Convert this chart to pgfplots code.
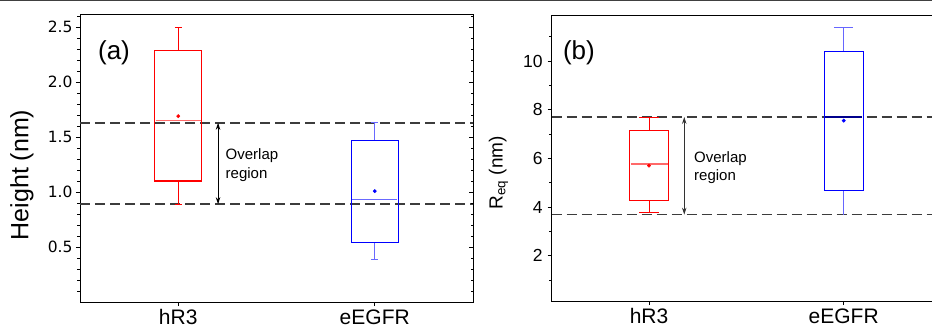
\documentclass[border=0pt]{standalone}
\usepackage{fontspec}
\setmainfont{Liberation Sans}
\newfontfamily\dejavu{DejaVu Sans}
\usepackage{pgfplots}
\pgfplotsset{compat=1.18}
\usetikzlibrary{arrows.meta}
\definecolor{dashgray}{RGB}{60,60,60}
\definecolor{myred}{RGB}{255,0,0}
\definecolor{medred}{RGB}{255,105,105}
\definecolor{myblue}{RGB}{0,0,255}
\definecolor{medblue}{RGB}{105,105,255}
\definecolor{darkblue}{RGB}{0,0,140}
\pgfplotsset{
  panel/.style={
    scale only axis, anchor=south west,
    xmin=0.5, xmax=2.5, xtick={1,2}, xticklabels={hR3,eEGFR},
    xtick pos=bottom, ytick pos=left, tick align=outside,
    major tick length=4pt, minor tick length=2.5pt,
    axis line style={line width=0.9pt},
    tick style={black, line width=0.8pt},
    /pgf/number format/assume math mode=true,
    xticklabel style={font=\fontsize{21}{24}\selectfont},
  },
  refline/.style={dashgray, line width=1.4pt, dash pattern=on 10pt off 5pt},
  boxline/.style={line width=1.2pt, line join=miter},
  whisk/.style={line width=0.9pt},
  arr/.style={line width=0.8pt, {Stealth[length=7pt,width=4.5pt]}-{Stealth[length=7pt,width=4.5pt]}},
}
\begin{document}
\begin{tikzpicture}
\useasboundingbox (0,0) rectangle (932pt,330pt);
\clip (0,0) rectangle (932pt,330pt);
\draw[black!75, line width=1pt] (0,329.5pt) -- (932pt,329.5pt);
% ---------- panel (a) ----------
\begin{axis}[panel, at={(80pt,28pt)}, width=393pt, height=288pt,
  ymin=0, ymax=2.62, ytick={0.5,1.0,1.5,2.0,2.5},
  minor ytick={0.1,0.2,...,2.6},
  yticklabel style={font=\fontsize{15.5}{18}\dejavu, /pgf/number format/.cd, fixed, fixed zerofill, precision=1},
  ylabel={Height (nm)},
  ylabel style={font=\fontsize{25}{28}\selectfont, at={(axis description cs:-0.1476,0.441)}, anchor=center},
]
\addplot[refline] coordinates {(0.5,1.63) (2.5,1.63)};
\addplot[refline] coordinates {(0.5,0.89) (2.5,0.89)};
% hR3: lw 0.89, q1 1.10, med 1.65, q3 2.285, uw 2.50, mean 1.69
\addplot[draw=myred, whisk] coordinates {(1,2.285) (1,2.50)};
\addplot[draw=myred, whisk] coordinates {(0.983,2.50) (1.017,2.50)};
\addplot[draw=myred, whisk] coordinates {(1,1.10) (1,0.89)};
\addplot[draw=myred, whisk] coordinates {(0.983,0.89) (1.017,0.89)};
\addplot[draw=medred, boxline] coordinates {(0.885,1.65) (1.115,1.65)};
\addplot[draw=myred, boxline] coordinates {(0.88,1.10) (1.12,1.10) (1.12,2.285) (0.88,2.285) (0.88,1.10) (1.12,1.10)};
\addplot[only marks, mark=*, mark size=1.7pt, color=myred] coordinates {(1,1.69)};
% eEGFR: lw 0.383, q1 0.544, med 0.936, q3 1.47, uw 1.63, mean 1.008
\addplot[draw=medblue, whisk] coordinates {(2,1.47) (2,1.63)};
\addplot[draw=medblue, whisk] coordinates {(1.983,1.63) (2.017,1.63)};
\addplot[draw=medblue, whisk] coordinates {(2,0.544) (2,0.383)};
\addplot[draw=medblue, whisk] coordinates {(1.983,0.383) (2.017,0.383)};
\addplot[draw=medblue, boxline] coordinates {(1.885,0.936) (2.115,0.936)};
\addplot[draw=myblue, boxline] coordinates {(1.88,0.544) (2.12,0.544) (2.12,1.47) (1.88,1.47) (1.88,0.544) (2.12,0.544)};
\addplot[only marks, mark=*, mark size=1.7pt, color=myblue] coordinates {(2,1.008)};
\addplot[arr, black] coordinates {(1.2026,0.89) (1.2026,1.63)};
\node[anchor=base west, font=\fontsize{15}{18}\selectfont] at (axis cs:1.2236,1.298) {Overlap};
\node[anchor=base west, font=\fontsize{15}{18}\selectfont] at (axis cs:1.2236,1.121) {region};
\node[font=\fontsize{26}{30}\selectfont] at (axis cs:0.673,2.27) {(a)};
\end{axis}
\begin{axis}[scale only axis, anchor=south west, at={(80pt,28pt)}, width=393pt, height=288pt,
  xmin=0.5, xmax=2.5, ymin=0, ymax=2.62, axis x line=none, axis y line*=right,
  ytick={0.5,1.0,1.5,2.0,2.5}, minor ytick={0.1,0.2,...,2.6}, yticklabels={},
  tick align=inside, major tick length=4pt, minor tick length=2.5pt,
  axis line style={line width=0.9pt}, tick style={black, line width=0.8pt}]
\end{axis}
% ---------- panel (b) ----------
\begin{axis}[panel, at={(551.7pt,29pt)}, width=389.3pt, height=285.3pt,
  ymin=0.14, ymax=11.86, ytick={2,4,6,8,10},
  minor ytick={1,3,5,7,9,11},
  yticklabel style={font=\fontsize{17.5}{20}\selectfont, xshift=-1.5pt},
  ylabel={R\textsubscript{eq} (nm)},
  ylabel style={font=\fontsize{19}{22}\selectfont, at={(axis description cs:-0.1367,0.449)}, anchor=center},
]
\addplot[refline] coordinates {(0.5,7.70) (2.5,7.70)};
\addplot[refline] coordinates {(0.5,3.69) (2.5,3.69)};
% hR3: lw 3.76, q1 4.26, med 5.77, q3 7.15, uw 7.67, mean 5.70
\addplot[draw=myred, whisk] coordinates {(1,7.15) (1,7.67)};
\addplot[draw=myred, boxline] coordinates {(0.95,7.67) (1.05,7.67)};
\addplot[draw=myred, whisk] coordinates {(1,4.26) (1,3.76)};
\addplot[draw=myred, boxline] coordinates {(0.95,3.76) (1.05,3.76)};
\addplot[draw=medred, boxline] coordinates {(0.905,5.77) (1.095,5.77)};
\addplot[draw=myred, boxline] coordinates {(0.9,4.26) (1.1,4.26) (1.1,7.15) (0.9,7.15) (0.9,4.26) (1.1,4.26)};
\addplot[only marks, mark=*, mark size=1.7pt, color=myred] coordinates {(1,5.70)};
% eEGFR: lw 3.69, q1 4.69, med 7.69, q3 10.38, uw 11.37, mean 7.55
\addplot[draw=blue!60, whisk] coordinates {(2,10.38) (2,11.37)};
\addplot[draw=blue!60, whisk] coordinates {(1.95,11.37) (2.05,11.37)};
\addplot[draw=blue!60, whisk] coordinates {(2,4.69) (2,3.69)};
\addplot[draw=darkblue, line width=1.6pt] coordinates {(1.905,7.69) (2.095,7.69)};
\addplot[draw=blue, boxline] coordinates {(1.9,4.69) (2.1,4.69) (2.1,10.38) (1.9,10.38) (1.9,4.69) (2.1,4.69)};
\addplot[only marks, mark=*, mark size=1.7pt, color=blue] coordinates {(2,7.55)};
\addplot[arr, black!80] coordinates {(1.181,3.69) (1.181,7.70)};
\node[anchor=base west, font=\fontsize{15}{18}\selectfont] at (axis cs:1.214,5.83) {Overlap};
\node[anchor=base west, font=\fontsize{15}{18}\selectfont] at (axis cs:1.214,5.07) {region};
\node[font=\fontsize{26}{30}\selectfont] at (axis cs:0.64,10.33) {(b)};
\end{axis}
\end{tikzpicture}
\end{document}
